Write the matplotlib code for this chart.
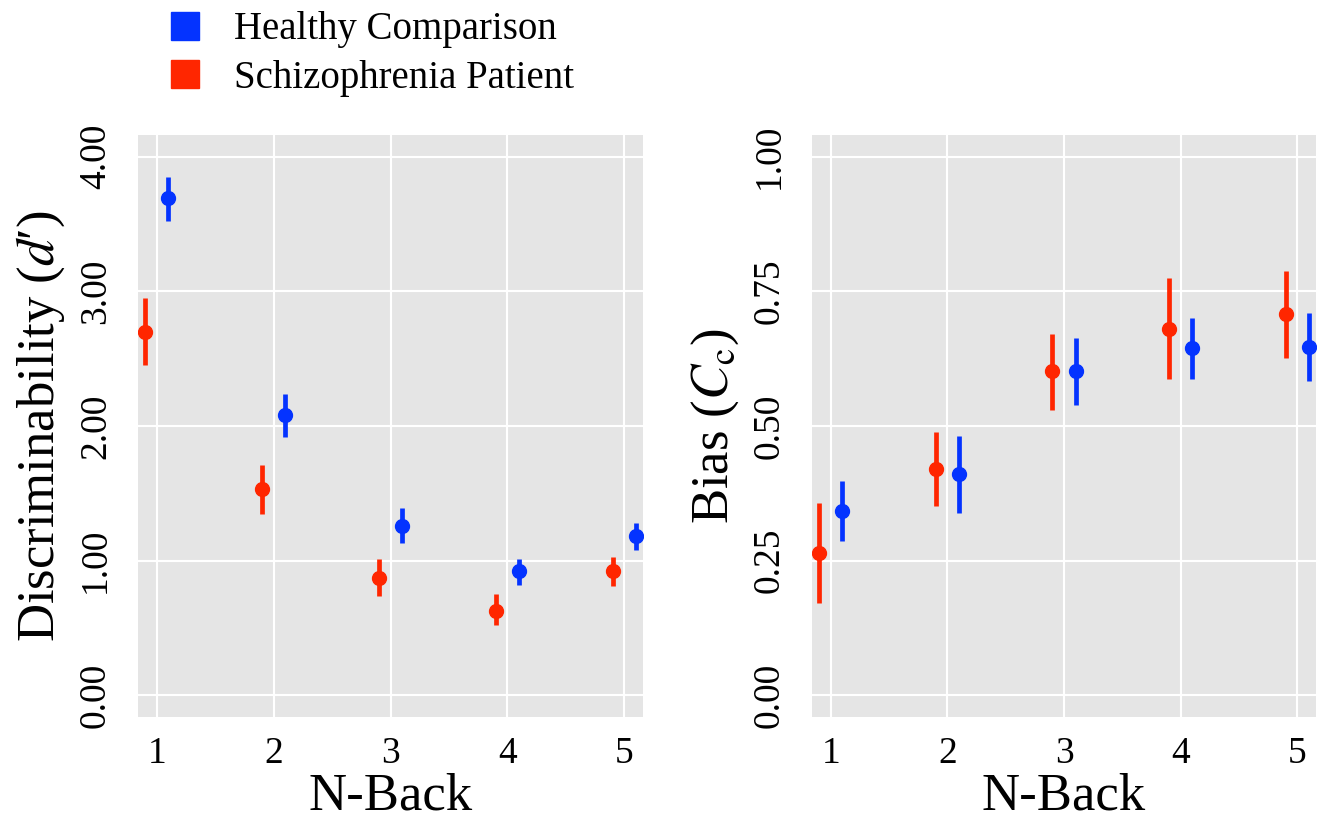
import matplotlib
matplotlib.use("Agg")
import matplotlib.pyplot as plt
from matplotlib.lines import Line2D

plt.rcParams["font.family"] = "serif"
plt.rcParams["font.serif"] = ["Liberation Serif", "DejaVu Serif"]
plt.rcParams["mathtext.fontset"] = "stix"

# Data (mean and interval ends)
n_back = [1, 2, 3, 4, 5]
groups = ["Healthy Comparison", "Schizophrenia Patient"]

hc_d = [3.69, 2.08, 1.26, 0.92, 1.18]
hc_d_lo = [3.52, 1.92, 1.13, 0.82, 1.08]
hc_d_hi = [3.85, 2.24, 1.39, 1.01, 1.28]
sz_d = [2.70, 1.53, 0.87, 0.63, 0.92]
sz_d_lo = [2.45, 1.35, 0.74, 0.52, 0.81]
sz_d_hi = [2.95, 1.71, 1.01, 0.75, 1.03]

hc_c = [0.343, 0.410, 0.602, 0.645, 0.646]
hc_c_lo = [0.287, 0.338, 0.539, 0.588, 0.583]
hc_c_hi = [0.397, 0.481, 0.663, 0.701, 0.710]
sz_c = [0.264, 0.421, 0.602, 0.680, 0.707]
sz_c_lo = [0.171, 0.352, 0.530, 0.587, 0.626]
sz_c_hi = [0.357, 0.489, 0.671, 0.774, 0.787]

d_ticks = [0, 1, 2, 3, 4]
d_tick_labels = ["0.00", "1.00", "2.00", "3.00", "4.00"]
c_ticks = [0, 0.25, 0.5, 0.75, 1.0]
c_tick_labels = ["0.00", "0.25", "0.50", "0.75", "1.00"]

blue = "#0433FF"
red = "#FF2600"
dodge = 0.1

fig = plt.figure(figsize=(13.26, 8.21), dpi=100)
ax1 = fig.add_axes([0.1041, 0.1267, 0.3808, 0.7089])
ax2 = fig.add_axes([0.6124, 0.1267, 0.3801, 0.7089])


def pointrange(ax, means, lo, hi, offset, color):
    xs = [x + offset for x in n_back]
    err = [[m - l for m, l in zip(means, lo)], [h - m for m, h in zip(means, hi)]]
    ax.errorbar(xs, means, yerr=err, fmt="o", color=color, ms=10,
                elinewidth=3.4, capsize=0, zorder=3)


pointrange(ax1, sz_d, sz_d_lo, sz_d_hi, -dodge, red)
pointrange(ax1, hc_d, hc_d_lo, hc_d_hi, dodge, blue)
pointrange(ax2, sz_c, sz_c_lo, sz_c_hi, -dodge, red)
pointrange(ax2, hc_c, hc_c_lo, hc_c_hi, dodge, blue)

ax1.set_ylim(-0.16, 4.16)
ax1.set_yticks(d_ticks)
ax1.set_yticklabels(d_tick_labels)
ax1.set_ylabel("Discriminability ($\\mathit{d}$\u2032)", fontsize=38, labelpad=8)

ax2.set_ylim(-0.04, 1.04)
ax2.set_yticks(c_ticks)
ax2.set_yticklabels(c_tick_labels)
ax2.set_ylabel(r"Bias ($C_{\mathrm{c}}$)", fontsize=38, labelpad=8)

for ax in (ax1, ax2):
    ax.set_facecolor("#E5E5E5")
    ax.set_xlim(0.84, 5.16)
    ax.set_xticks(n_back)
    ax.set_xlabel("N-Back", fontsize=38, labelpad=1)
    ax.grid(True, color="white", linewidth=1.5)
    ax.set_axisbelow(True)
    for s in ax.spines.values():
        s.set_visible(False)
    ax.tick_params(axis="both", length=0, labelsize=27)
    ax.tick_params(axis="x", pad=14)
    ax.tick_params(axis="y", pad=18, labelrotation=90)
    plt.setp(ax.get_yticklabels(), va="center")

handles = [
    Line2D([], [], marker="s", linestyle="none", color=blue, ms=20),
    Line2D([], [], marker="s", linestyle="none", color=red, ms=20),
]
fig.legend(handles, groups, loc="upper left", bbox_to_anchor=(146 / 1326, 1 + 8 / 821),
           frameon=False, fontsize=28, handletextpad=0.75, labelspacing=0.3,
           borderpad=0, handlelength=1.0)

fig.savefig("out.png", dpi=100)
